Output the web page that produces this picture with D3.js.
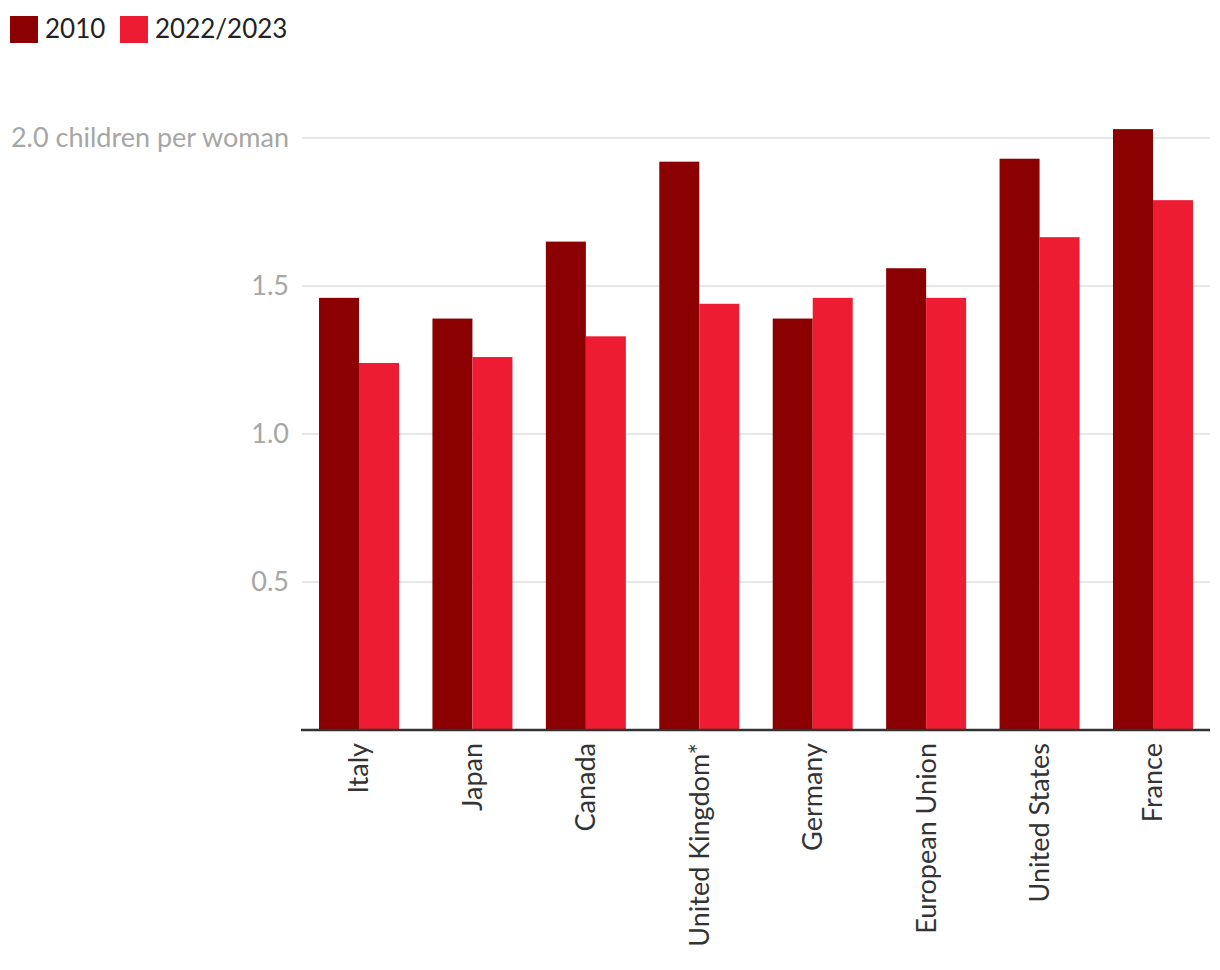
<!DOCTYPE html>
<html><head><meta charset="utf-8">
<script src="https://cdn.jsdelivr.net/npm/d3@7"></script>
<style>body{margin:0;background:#fff;} text{font-family:Lato,"Open Sans",sans-serif;}</style>
</head><body>
<svg id="chart" width="1220" height="970"></svg>
<script>
const categories = ["Italy","Japan","Canada","United Kingdom*","Germany","European Union","United States","France"];
const seriesNames = ["2010","2022/2023"];
const values2010 = [1.46,1.39,1.65,1.92,1.39,1.56,1.93,2.03];
const values2022 = [1.24,1.26,1.33,1.44,1.46,1.46,1.665,1.79];
const yTicks = [0.5,1.0,1.5,2.0];
const colors = ["#8b0000","#ed1c33"];

const svg = d3.select("#chart");
const mLeft = 302, mRight = 1210, mTop = 138, mBottom = 730;
const x = d3.scaleBand().domain(categories).range([mLeft, mRight]).paddingInner(0.2947).paddingOuter(0.15);
const sub = d3.scaleBand().domain(seriesNames).range([0, x.bandwidth()]);
const y = d3.scaleLinear().domain([0, 2.0]).range([mBottom, mTop]);

// gridlines
svg.append("g").selectAll("line").data(yTicks).join("line")
  .attr("x1", mLeft).attr("x2", mRight)
  .attr("y1", d => y(d)).attr("y2", d => y(d))
  .attr("stroke", "#e6e6e6").attr("stroke-width", 2);

// y labels
svg.append("g").selectAll("text").data(yTicks).join("text")
  .attr("x", 289).attr("y", d => y(d)).attr("dy", "0.35em")
  .attr("text-anchor", "end").attr("fill", "#a6a6a6").attr("font-size", 27)
  .text(d => d === 2 ? "2.0 children per woman" : d.toFixed(1));

// bars
const data = categories.map((c, i) => ({c, v: [values2010[i], values2022[i]]}));
const g = svg.append("g").selectAll("g").data(data).join("g")
  .attr("transform", d => `translate(${x(d.c)},0)`);
g.selectAll("rect").data(d => d.v.map((v, j) => ({k: seriesNames[j], v, j}))).join("rect")
  .attr("x", d => sub(d.k)).attr("width", sub.bandwidth())
  .attr("y", d => y(d.v)).attr("height", d => y(0) - y(d.v))
  .attr("fill", d => colors[d.j]);

// x axis
const xAxis = svg.append("g").attr("transform", `translate(0,${mBottom})`)
  .call(d3.axisBottom(x).tickSize(0).tickPadding(0));
xAxis.select(".domain").attr("stroke", "#333").attr("stroke-width", 2.5).attr("d", `M${mLeft-1},0H${mRight}`);
xAxis.selectAll("text")
  .attr("transform", "rotate(-90)")
  .attr("x", -13).attr("y", 0).attr("dy", "0.35em")
  .attr("text-anchor", "end")
  .attr("fill", "#333").attr("font-size", 27)
  .style("font-family", "Lato, 'Open Sans', sans-serif");

// legend
const leg = svg.append("g");
const legX = [10, 120];
seriesNames.forEach((s, i) => {
  leg.append("rect").attr("x", legX[i]).attr("y", 16).attr("width", 28).attr("height", 27).attr("fill", colors[i]);
  leg.append("text").attr("x", legX[i] + 35).attr("y", 38).attr("font-size", 26).attr("fill", "#222").text(s);
});
</script>
</body></html>
